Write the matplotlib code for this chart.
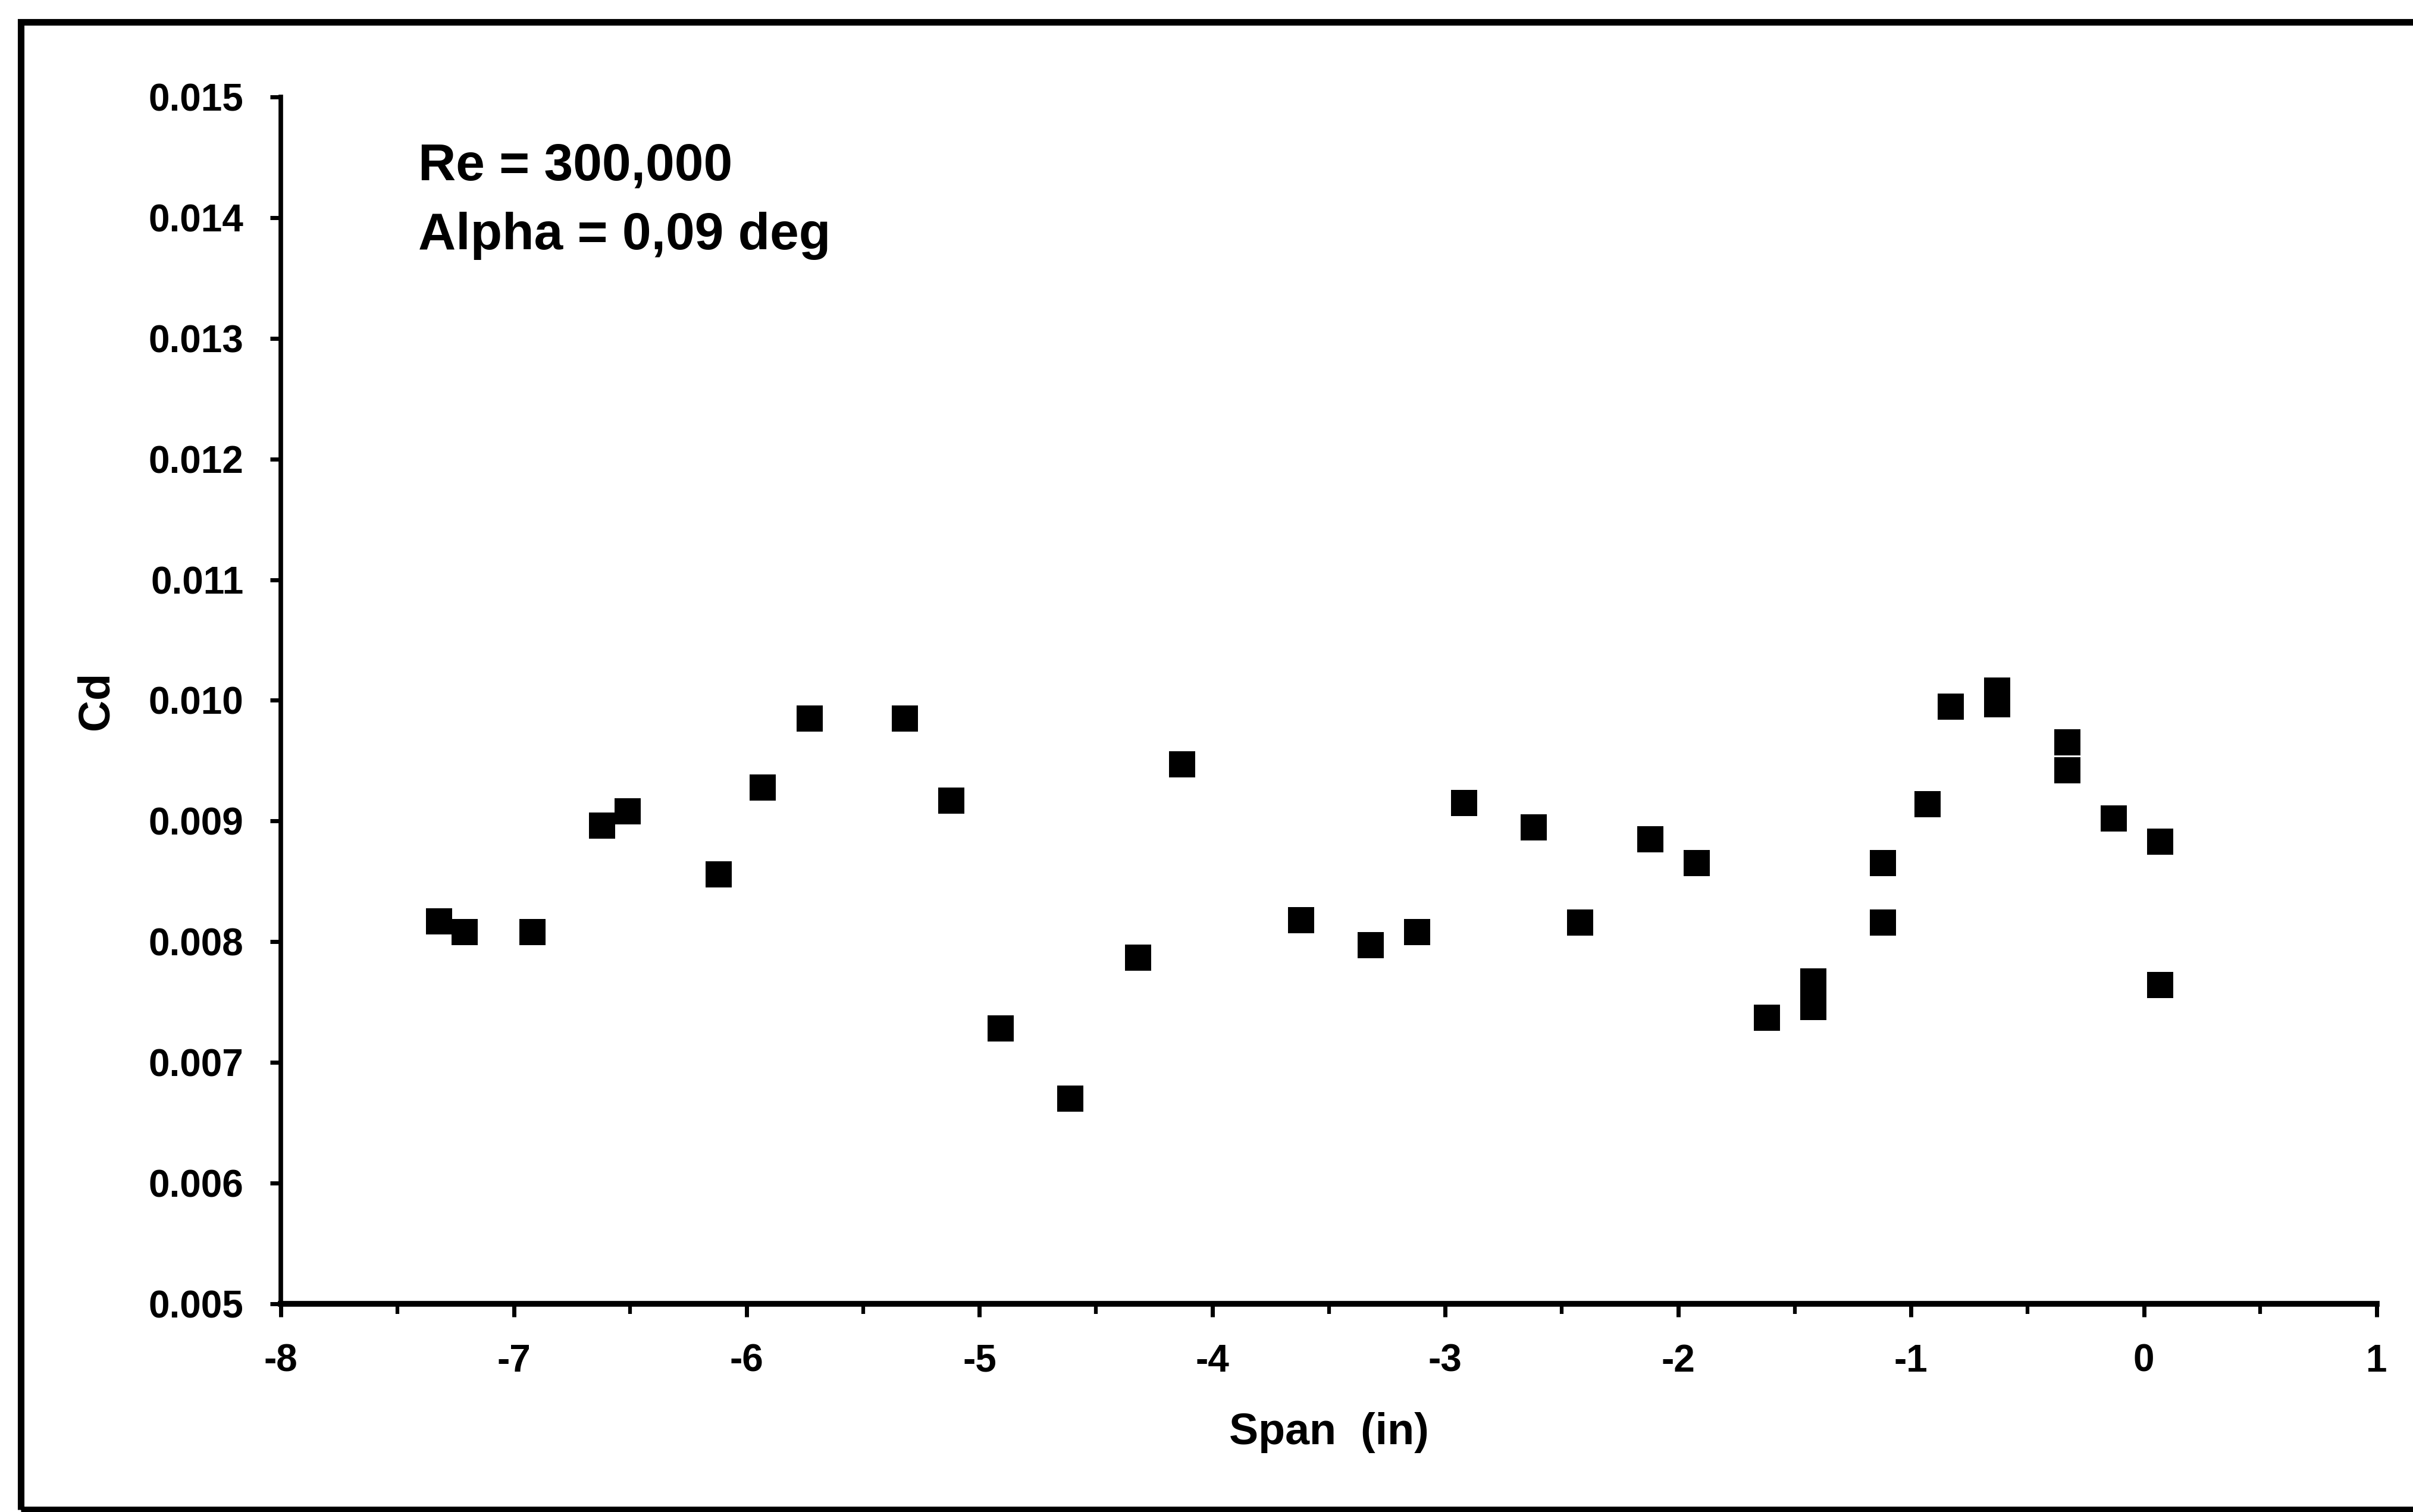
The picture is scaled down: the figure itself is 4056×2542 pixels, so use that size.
import numpy as np
import matplotlib
matplotlib.use("Agg")
import matplotlib.pyplot as plt
from matplotlib.patches import Rectangle
from matplotlib.ticker import MultipleLocator, FormatStrFormatter

plt.rcParams['font.family'] = ['Liberation Sans', 'DejaVu Sans']
plt.rcParams['font.weight'] = 'bold'
plt.rcParams['axes.unicode_minus'] = False

# span position (in) and drag coefficient
span = [-7.32, -7.21, -6.92, -6.62, -6.51, -6.12, -5.93, -5.73, -5.32, -5.12,
        -4.91, -4.61, -4.32, -4.13, -3.62, -3.32, -3.12, -2.92, -2.62, -2.42,
        -2.12, -1.92, -1.62, -1.42, -1.42, -1.12, -1.12, -0.93, -0.83, -0.63,
        -0.63, -0.33, -0.33, -0.13, 0.07, 0.07]
cd = [0.00817, 0.00808, 0.00808, 0.00896, 0.00908, 0.00856, 0.00928, 0.00985, 0.00985, 0.00917,
      0.00728, 0.00670, 0.00787, 0.00947, 0.00818, 0.00797, 0.00808, 0.00915, 0.00895, 0.00816,
      0.00885, 0.00865, 0.00737, 0.00767, 0.00746, 0.00865, 0.00816, 0.00914, 0.00995, 0.01008,
      0.00997, 0.00965, 0.00942, 0.00902, 0.00883, 0.00764]

note_lines = ["Re = 300,000", "Alpha = 0,09 deg"]

fig = plt.figure(figsize=(40.56, 25.42), dpi=100)
ax = fig.add_axes([0.1164, 0.1377, 0.8686, 0.7982])

ax.plot(span, cd, linestyle='none', marker='s', markersize=32,
        markerfacecolor='black', markeredgewidth=0, clip_on=False)

ax.set_xlim(-8, 1)
ax.set_ylim(0.005, 0.015)
ax.xaxis.set_major_locator(MultipleLocator(1))
ax.xaxis.set_minor_locator(MultipleLocator(0.5))
ax.yaxis.set_major_locator(MultipleLocator(0.001))
ax.yaxis.set_major_formatter(FormatStrFormatter('%.3f'))

for side in ['top', 'right']:
    ax.spines[side].set_visible(False)
ax.spines['left'].set_linewidth(5.5)
ax.spines['bottom'].set_linewidth(7)

ax.tick_params(axis='both', which='major', direction='out', width=5,
               labelsize=46, pad=32)
ax.tick_params(axis='x', which='major', length=16)
ax.tick_params(axis='x', which='minor', direction='out', length=12, width=4.5)
ax.tick_params(axis='y', which='major', length=13)
for lab in ax.get_xticklabels() + ax.get_yticklabels():
    lab.set_fontweight('bold')

ax.set_xlabel("Span  (in)", fontsize=53, fontweight='bold', labelpad=40)
ax.set_ylabel("Cd", fontsize=53, fontweight='bold', labelpad=38)

ax.text(-7.41, 0.01431, note_lines[0], fontsize=63, fontweight='bold', va='baseline')
ax.text(-7.41, 0.01374, note_lines[1], fontsize=63, fontweight='bold', va='baseline')

# outer frame of the scanned chart
fig.patches.append(Rectangle((0.0086, 0.0015), 1.05, 0.984, transform=fig.transFigure,
                             fill=False, edgecolor='black', linewidth=8))

fig.savefig("out.png", dpi=100)
